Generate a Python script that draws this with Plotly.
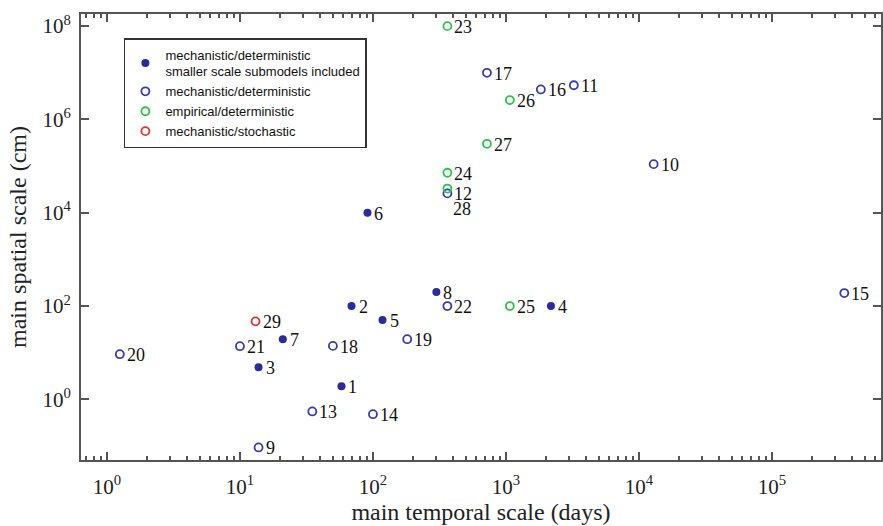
import math
import plotly.graph_objects as go

# ---- data ----
ids_sub = ["1", "2", "3", "4", "5", "6", "7", "8"]
t_sub = [58, 69, 13.8, 2180, 118, 91, 21, 300]
s_sub = [1.9, 100, 4.9, 100, 50, 1.0e4, 19.5, 200]

ids_mech = ["9", "10", "11", "12", "13", "14", "15", "16", "17", "18", "19", "20", "21", "22"]
t_mech = [13.8, 12900, 3240, 363, 35, 100, 3.5e5, 1830, 720, 50, 181, 1.25, 10, 363]
s_mech = [0.093, 1.1e5, 5.4e6, 2.6e4, 0.55, 0.48, 190, 4.4e6, 1.0e7, 14, 19.5, 9.3, 13.8, 100]

ids_emp = ["23", "24", "25", "26", "27", "28"]
t_emp = [363, 363, 1070, 1070, 720, 363]
s_emp = [1.0e8, 7.2e4, 100, 2.6e6, 3.0e5, 3.3e4]

ids_sto = ["29"]
t_sto = [13.1]
s_sto = [47]

names = [
    "mechanistic/deterministic<br>smaller scale submodels included",
    "mechanistic/deterministic",
    "empirical/deterministic",
    "mechanistic/stochastic",
]

x_tickvals = [1, 10, 100, 1e3, 1e4, 1e5]
x_ticktext = ["10<sup>0</sup>", "10<sup>1</sup>", "10<sup>2</sup>", "10<sup>3</sup>", "10<sup>4</sup>", "10<sup>5</sup>"]
y_tickvals = [1, 1e2, 1e4, 1e6, 1e8]
y_ticktext = ["10<sup>0</sup>", "10<sup>2</sup>", "10<sup>4</sup>", "10<sup>6</sup>", "10<sup>8</sup>"]

# ---- styles ----
BLUE_F = "#2b2b9c"
BLUE_O = "#3a3ab0"
GREEN = "#2fc24a"
RED = "#e23030"
SERIF = "Liberation Serif, Times New Roman, serif"
SANS = "Liberation Sans, Arial, sans-serif"
AX = "#555555"

fig = go.Figure()
fig.add_trace(go.Scatter(x=t_sub, y=s_sub, mode="markers", name=names[0],
                         marker=dict(symbol="circle", size=8, color=BLUE_F)))
fig.add_trace(go.Scatter(x=t_mech, y=s_mech, mode="markers", name=names[1],
                         marker=dict(symbol="circle-open", size=8, color=BLUE_O, line=dict(width=1.8))))
fig.add_trace(go.Scatter(x=t_emp, y=s_emp, mode="markers", name=names[2],
                         marker=dict(symbol="circle-open", size=8, color=GREEN, line=dict(width=1.8))))
fig.add_trace(go.Scatter(x=t_sto, y=s_sto, mode="markers", name=names[3],
                         marker=dict(symbol="circle-open", size=8, color=RED, line=dict(width=1.8))))

# annotations on log axes take log10 positions
special = {"28": (4, -20)}
for ids, ts, ss in [(ids_sub, t_sub, s_sub), (ids_mech, t_mech, s_mech),
                    (ids_emp, t_emp, s_emp), (ids_sto, t_sto, s_sto)]:
    for lab, xv, yv in zip(ids, ts, ss):
        dx, dy = special.get(lab, (5, -1))
        fig.add_annotation(x=math.log10(xv), y=math.log10(yv), xref="x", yref="y", text=lab,
                           showarrow=False, xanchor="left", yanchor="middle", xshift=dx, yshift=dy,
                           font=dict(family=SERIF, size=18, color="#111"))

minor_x = [m * 10 ** k for k in range(-1, 6) for m in range(2, 10)]

fig.update_xaxes(type="log", range=[-0.195, 5.82], tickmode="array", tickvals=x_tickvals,
                 ticktext=x_ticktext, ticks="inside", ticklen=8, tickwidth=1.5, tickcolor=AX,
                 showline=True, linecolor=AX, linewidth=2, mirror="ticks", showgrid=False, zeroline=False,
                 minor=dict(tickmode="array", tickvals=minor_x, ticks="inside", ticklen=4,
                            tickwidth=1.5, tickcolor=AX, showgrid=False),
                 ticklabelstandoff=7,
                 tickfont=dict(family=SERIF, size=21, color="#222"),
                 title=dict(text="main temporal scale (days)", font=dict(family=SERIF, size=24, color="#222"),
                            standoff=0))
fig.update_yaxes(type="log", range=[-1.30, 8.26], tickmode="array", tickvals=y_tickvals,
                 ticktext=y_ticktext, ticks="inside", ticklen=8, tickwidth=1.5, tickcolor=AX,
                 showline=True, linecolor=AX, linewidth=2, mirror="ticks", showgrid=False, zeroline=False,
                 ticklabelstandoff=4,
                 tickfont=dict(family=SERIF, size=21, color="#222"),
                 title=dict(text="main spatial scale (cm)", font=dict(family=SERIF, size=24, color="#222"),
                            standoff=9))

fig.update_layout(
    width=883, height=526, margin=dict(l=81, r=0, t=14, b=66),
    plot_bgcolor="white", paper_bgcolor="white",
    legend=dict(x=0.0536, y=0.946, xanchor="left", yanchor="top", bgcolor="white",
                bordercolor="#333", borderwidth=1.5, font=dict(family=SANS, size=13, color="#111"),
                tracegroupgap=0, itemwidth=30),
    showlegend=True,
)

fig.write_html("out.html")
